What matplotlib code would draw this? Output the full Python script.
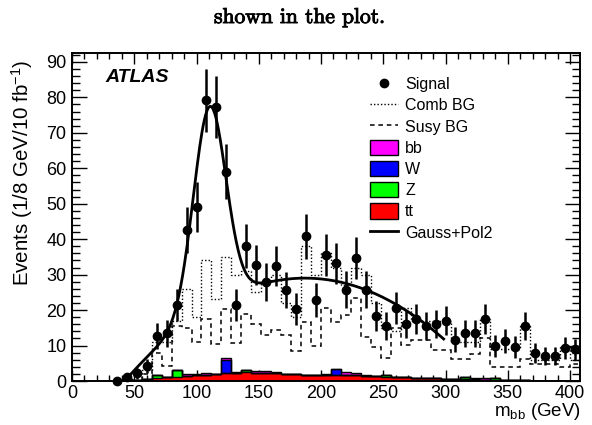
import numpy as np
import matplotlib
matplotlib.use("Agg")
import matplotlib.pyplot as plt
import matplotlib.patheffects as pe
from matplotlib.lines import Line2D
from matplotlib.patches import Patch
from matplotlib.ticker import MultipleLocator

plt.rcParams['font.family'] = ['Liberation Sans', 'DejaVu Sans']
plt.rcParams['mathtext.fontset'] = 'custom'
plt.rcParams['mathtext.rm'] = 'Liberation Sans'
plt.rcParams['mathtext.it'] = 'Liberation Sans:italic'

# ---------------- data ----------------
# signal points (bin centres 36 ... 404 GeV)
signal_centers = np.arange(36, 405, 8)
signal = [0, 1.0, 2.2, 4.2, 12.7, 13.4, 21.4, 42.7, 49.1, 79.2,
          77.3, 59.0, 21.4, 38.0, 32.7, 28.0, 32.4, 25.6, 20.2, 40.8,
          22.8, 35.5, 33.2, 25.8, 34.8, 25.8, 18.3, 15.5, 20.5, 16.0,
          17.4, 15.5, 16.1, 17.0, 11.7, 13.4, 13.4, 17.5, 9.9, 11.4,
          9.7, 15.5, 8.0, 7.0, 7.0, 9.4, 8.9]
signal_err = [0, 1.0, 1.5, 2.0, 3.6, 3.7, 4.6, 6.5, 7.0, 8.9,
              8.8, 7.7, 4.6, 6.2, 5.7, 5.3, 5.7, 5.1, 4.5, 6.4,
              4.8, 6.0, 5.8, 5.1, 5.9, 5.1, 4.3, 3.9, 4.5, 4.0,
              4.2, 3.9, 4.0, 4.1, 3.4, 3.7, 3.7, 4.2, 3.1, 3.4,
              3.1, 3.9, 2.8, 2.6, 2.6, 3.1, 3.0]

# background histograms, bins of 8 GeV starting at 56 GeV
bg_edges = np.arange(56, 409, 8)
comb_bg = [3, 11, 11, 17, 26, 18, 34, 23, 35, 30,
           31, 25, 28, 30, 22, 18, 38, 30, 36, 32,
           27, 32, 30, 22, 15, 14, 20.5, 17, 17, 17,
           17, 11, 11, 11, 17.4, 9, 9, 9, 15.5, 6,
           6, 6, 9.6, 6]
susy_bg = [2, 8, 4.3, 15.5, 15, 11, 17.4, 10.4, 20.2, 10.6,
           19, 16, 13, 14.4, 13, 8.5, 16.7, 10, 20.5, 16.7,
           18.6, 23.3, 12.5, 9.6, 6.4, 15, 10.1, 11.5, 11.5, 8.7,
           8.7, 6.1, 6.1, 7.7, 12.0, 4.0, 4.0, 4.0, 6.3, 4.9,
           4.9, 4.9, 4.0, 4.9]

# Standard-model stack, bins of 8 GeV starting at 40 GeV
sm_edges = np.arange(40, 409, 8)
tt = [0.0, 0.2, 0.5, 0.8, 1.0, 1.2, 1.5, 1.7, 1.8, 2.0,
      2.2, 2.3, 2.4, 2.3, 2.3, 2.2, 2.0, 1.9, 1.7, 1.7,
      1.6, 1.7, 1.8, 1.7, 1.5, 1.3, 1.2, 1.1, 1.0, 0.9,
      0.8, 0.8, 0.7, 0.6, 0.5, 0.5, 0.4, 0.4, 0.3, 0.2,
      0.2, 0.1, 0.1, 0.1, 0.1, 0.1]
zjets = [0.7, 0, 0, 0.8, 0, 2.0, 0, 0, 0, 0,
         0, 0, 0.6, 0, 0, 0, 0, 0, 0, 0,
         0, 0, 0, 0, 0, 0, 0.6, 0, 0, 0,
         0, 0, 0, 0, 0.6, 0, 0, 0.5, 0, 0,
         0, 0, 0, 0, 0, 0]
wjets = [0, 0, 0, 0, 0, 0, 0, 0, 0, 0,
         3.6, 0, 0, 0, 0, 0, 0, 0, 0, 0,
         0, 1.8, 0, 0, 0, 0, 0, 0, 0, 0,
         0, 0, 0, 0, 0, 0, 0, 0, 0, 0,
         0, 0, 0, 0, 0, 0]
bbjets = [0, 0, 0, 0, 0, 0, 0.4, 0.4, 0.5, 0,
          0.6, 0.3, 0, 0.5, 0.4, 0.3, 0, 0, 0, 0,
          0.4, 0, 0.6, 0.5, 0.3, 0, 0, 0, 0, 0,
          0, 0, 0, 0, 0, 0.3, 0.5, 0, 0, 0,
          0, 0, 0, 0, 0, 0]

# Gauss + Pol2 fit parameters
fit_range = (42.0, 298.5)
gauss_amp, gauss_mean, gauss_sigma = 56.5, 110.5, 13.0
pol2_c0, pol2_c1, pol2_c2 = -19.43, 0.51776, -0.0013835

# ---------------- figure ----------------
W, H = 592, 425
fig = plt.figure(figsize=(W / 100, H / 100), dpi=100)
ax = fig.add_axes([72 / W, 1 - 381 / H, (580 - 72) / W, (381 - 53) / H])

# SM stack (ROOT style: top of stack drawn first)
c1 = np.array(tt)
c2 = c1 + np.array(zjets)
c3 = c2 + np.array(wjets)
c4 = c3 + np.array(bbjets)
for cum, col in [(c4, '#ff00ff'), (c3, '#0000ff'), (c2, '#00ff00'), (c1, '#ff0000')]:
    ax.stairs(cum, sm_edges, fill=True, color=col, zorder=2)
    ax.stairs(cum, sm_edges, color='k', lw=1.0, zorder=2.1)

ax.stairs(comb_bg, bg_edges, color='k', lw=1.0, ls=(0, (1, 1.5)), zorder=3)
ax.stairs(susy_bg, bg_edges, color='k', lw=1.1, ls=(0, (3, 2.5)), zorder=3)

ax.errorbar(signal_centers, signal, yerr=signal_err, fmt='o', color='k',
            ms=6, elinewidth=1.8, capsize=0, zorder=5, clip_on=False)

xf = np.linspace(fit_range[0], fit_range[1], 500)
yf = (gauss_amp * np.exp(-0.5 * ((xf - gauss_mean) / gauss_sigma) ** 2)
      + pol2_c0 + pol2_c1 * xf + pol2_c2 * xf ** 2)
ax.plot(xf, yf, color='k', lw=2.0, zorder=6)

ax.set_xlim(0, 408)
ax.set_ylim(0, 92.5)
ax.xaxis.set_major_locator(MultipleLocator(50))
ax.xaxis.set_minor_locator(MultipleLocator(10))
ax.yaxis.set_major_locator(MultipleLocator(10))
ax.yaxis.set_minor_locator(MultipleLocator(2))
ax.tick_params(axis='both', which='both', direction='in', top=True, right=True,
               labelsize=13, width=1.0, colors='k')
ax.tick_params(axis='x', which='major', length=8, pad=3)
ax.tick_params(axis='x', which='minor', length=4)
ax.tick_params(axis='y', which='major', length=11, pad=4)
ax.tick_params(axis='y', which='minor', length=5.5)
for s in ax.spines.values():
    s.set_linewidth(1.4)

handles = [
    Line2D([], [], marker='o', color='k', ls='none', ms=6),
    Line2D([], [], color='k', lw=1.0, ls=(0, (1, 1.5))),
    Line2D([], [], color='k', lw=1.1, ls=(0, (3, 2.5))),
    Patch(facecolor='#ff00ff', edgecolor='k', lw=1.0),
    Patch(facecolor='#0000ff', edgecolor='k', lw=1.0),
    Patch(facecolor='#00ff00', edgecolor='k', lw=1.0),
    Patch(facecolor='#ff0000', edgecolor='k', lw=1.0),
    Line2D([], [], color='k', lw=2.0),
]
labels = ['Signal', 'Comb BG', 'Susy BG', 'bb', 'W', 'Z', 'tt', 'Gauss+Pol2']
ax.legend(handles, labels, loc='upper left', frameon=False, fontsize=11.5,
          bbox_to_anchor=(370 / W, 1 - 76 / H), bbox_transform=fig.transFigure,
          borderpad=0, borderaxespad=0, handlelength=1.75, handleheight=1.1,
          handletextpad=0.45, labelspacing=0.32)

fig.text(105 / W, 1 - 77 / H, 'ATLAS', fontsize=14, weight='bold', style='italic',
         ha='left', va='center')
fig.text(300 / W, 1 - 23 / H, 'shown in the plot.', family='cmr10', fontsize=15.5,
         ha='center', va='baseline',
         path_effects=[pe.withStroke(linewidth=0.7, foreground='k')])
fig.text(22 / W, 1 - 173 / H, r'Events (1/8 GeV/10 fb$^{-1}$)', fontsize=14.8,
         rotation=90, ha='center', va='center')
fig.text(581 / W, 1 - 411 / H, r'm$_{\rm bb}$ (GeV)', fontsize=13.5,
         ha='right', va='center')

fig.savefig('out.png', dpi=100)
